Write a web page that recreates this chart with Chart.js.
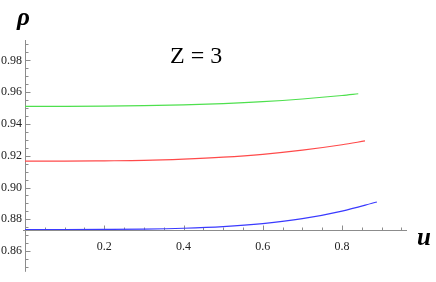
<!DOCTYPE html>
<html><head><meta charset="utf-8">
<script src="https://cdn.jsdelivr.net/npm/chart.js@4/dist/chart.umd.min.js"></script>
<style>html,body{margin:0;padding:0;background:#fff;overflow:hidden}#wrap{position:relative;width:436px;height:282px}</style>
</head><body><div id="wrap"><canvas id="c" width="436" height="282"></canvas></div>
<script>
// Data (u, rho)
const uGreen   = [0, 0.1, 0.2, 0.3, 0.4, 0.5, 0.6, 0.7, 0.8, 0.841];
const rhoGreen = [0.9511, 0.9511, 0.9512, 0.9515, 0.9520, 0.9528, 0.9540, 0.9557, 0.9579, 0.9590];
const uRed     = [0, 0.1, 0.2, 0.3, 0.4, 0.5, 0.6, 0.7, 0.8, 0.858];
const rhoRed   = [0.9166, 0.9166, 0.9168, 0.9171, 0.9179, 0.9191, 0.9209, 0.9235, 0.9269, 0.9293];
const uBlue    = [0, 0.1, 0.2, 0.3, 0.4, 0.5, 0.6, 0.7, 0.8, 0.888];
const rhoBlue  = [0.8736, 0.8736, 0.8737, 0.8739, 0.8744, 0.8754, 0.8773, 0.8804, 0.8852, 0.8909];
const xTickLabels = [0.2, 0.4, 0.6, 0.8];
const yTickLabels = [0.86, 0.88, 0.90, 0.92, 0.94, 0.96, 0.98];
const axisCrossRho = 0.8736;
const annotation = 'Z = 3';
const xTitle = 'u';
const yTitle = 'ρ';

const X_MIN = 0, X_MAX = 0.964, Y_MIN = 0.847, Y_MAX = 0.9928;
const serif = '"Liberation Serif", "DejaVu Serif", serif';
const axisColor = '#8c8c8c';

function pts(xs, ys){ return xs.map((x,i)=>({x:x, y:ys[i]})); }

const axesPlugin = {
  id: 'axesPlugin',
  beforeDatasetsDraw(chart){
    const ctx = chart.ctx, xs = chart.scales.x, ys = chart.scales.y;
    const y0 = ys.getPixelForValue(axisCrossRho);
    const x0 = xs.getPixelForValue(0);
    ctx.save();
    ctx.strokeStyle = axisColor; ctx.lineWidth = 1;
    ctx.beginPath(); ctx.moveTo(x0 - 2, Math.round(y0)+0.5); ctx.lineTo(xs.getPixelForValue(X_MAX), Math.round(y0)+0.5); ctx.stroke();
    ctx.beginPath(); ctx.moveTo(Math.round(x0)+0.5, ys.getPixelForValue(Y_MAX)); ctx.lineTo(Math.round(x0)+0.5, ys.getPixelForValue(Y_MIN)); ctx.stroke();
    for (let k = 1; k * 0.05 <= X_MAX + 1e-9; k++) {
      const v = k * 0.05;
      const major = (k % 4 === 0);
      const px = Math.round(xs.getPixelForValue(v)) + 0.5;
      ctx.beginPath(); ctx.moveTo(px, Math.round(y0)+0.5); ctx.lineTo(px, Math.round(y0)+0.5 - (major ? 5 : 3)); ctx.stroke();
    }
    for (let k = 170; k * 0.005 <= Y_MAX + 1e-9; k++) {
      const v = k * 0.005;
      if (v < Y_MIN) continue;
      const major = (k % 4 === 0);
      const py = Math.round(ys.getPixelForValue(v)) + 0.5;
      ctx.beginPath(); ctx.moveTo(Math.round(x0)+0.5, py); ctx.lineTo(Math.round(x0)+0.5 + (major ? 5 : 3), py); ctx.stroke();
    }
    ctx.restore();
  },
  afterDraw(chart){
    const ctx = chart.ctx;
    ctx.save();
    ctx.fillStyle = '#000';
    ctx.textBaseline = 'alphabetic';
    ctx.textAlign = 'left';
    ctx.font = '24px ' + serif;
    ctx.fillText(annotation, 170, 63);
    ctx.font = 'italic bold 25px ' + serif;
    ctx.fillText(yTitle, 17, 25);
    ctx.fillText(xTitle, 417, 245);
    ctx.restore();
  }
};

new Chart(document.getElementById('c'), {
  type: 'scatter',
  data: {
    datasets: [
      { data: pts(uGreen, rhoGreen), borderColor: '#4ee04e', showLine: true },
      { data: pts(uRed, rhoRed), borderColor: '#ff4a4a', showLine: true },
      { data: pts(uBlue, rhoBlue), borderColor: '#3a3aff', showLine: true }
    ]
  },
  options: {
    responsive: false,
    devicePixelRatio: 1,
    animation: false,
    layout: { padding: { left: 0, top: 40, right: 29, bottom: 2 } },
    elements: {
      point: { radius: 0, hoverRadius: 0 },
      line: { borderWidth: 1.2, cubicInterpolationMode: 'monotone', fill: false }
    },
    plugins: { legend: { display: false }, tooltip: { enabled: false } },
    scales: {
      x: {
        type: 'linear', min: X_MIN, max: X_MAX,
        position: { y: axisCrossRho },
        grid: { display: false, drawTicks: false },
        border: { display: false },
        afterBuildTicks(scale){ scale.ticks = xTickLabels.map(v => ({ value: v })); },
        ticks: { padding: 10, color: '#222', font: { family: serif, size: 12 }, maxRotation: 0, autoSkip: false,
                 callback: (v) => Number(v).toFixed(1) }
      },
      y: {
        type: 'linear', min: Y_MIN, max: Y_MAX,
        position: 'left',
        grid: { display: false, drawTicks: false },
        border: { display: false },
        afterFit(scale){ scale.width = 25; },
        afterBuildTicks(scale){ scale.ticks = yTickLabels.map(v => ({ value: v })); },
        ticks: { padding: 3, color: '#222', font: { family: serif, size: 12 }, autoSkip: false,
                 callback: (v) => Number(v).toFixed(2) }
      }
    }
  },
  plugins: [axesPlugin]
});
</script>
</body></html>
